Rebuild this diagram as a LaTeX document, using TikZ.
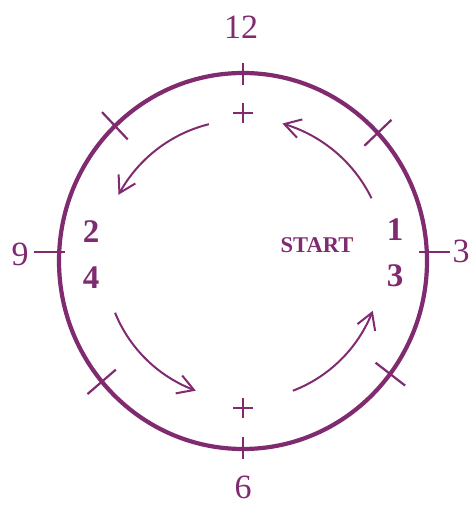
\documentclass[tikz,border=0pt]{standalone}
\usepackage{fontspec}
\setmainfont{Liberation Serif}
\usetikzlibrary{arrows.meta, bending}

\definecolor{clockpurple}{RGB}{128,42,112}

\begin{document}
\begin{tikzpicture}[
    x=1pt, y=1pt,
    >={Straight Barb[length=16pt, width=19pt]},
    rim/.style   ={draw=clockpurple, line width=4.2pt},
    tick/.style  ={draw=clockpurple, line width=2.2pt},
    flow/.style  ={->, draw=clockpurple, line width=2pt},
    hour/.style  ={text=clockpurple, inner sep=0pt,
                   font=\fontsize{34}{36}\selectfont},
    seat/.style  ={text=clockpurple, inner sep=0pt,
                   font=\fontsize{33}{35}\selectfont\bfseries},
    start/.style ={text=clockpurple, inner sep=0pt,
                   font=\fontsize{22.5}{24}\selectfont\bfseries}
  ]
  \useasboundingbox (0,0) rectangle (470,505);

  % ---- clock face --------------------------------------------------------
  \coordinate (c) at (243,244);
  \draw[rim] (c) ellipse [x radius=184, y radius=188];

  % ---- ticks on the rim ---------------------------------------------------
  \draw[tick] (c) ++(90:176)  -- ++(0,22);
  \draw[tick] (c) ++(270:176) -- ++(0,-22);
  \draw[tick] ([shift={(177:178)}]c) -- ++(-31,0);
  \draw[tick] ([shift={(3:176)}]c)   -- ++(31,0);
  \foreach \a in {43,134,220,323}
    \draw[tick] ([shift={(\a:166 and 169)}]c) -- ([shift={(\a:203 and 207)}]c);

  % ---- crosses inside -----------------------------------------------------
  \coordinate (plusT) at (243,392);
  \coordinate (plusB) at (243,97);
  \foreach \p in {plusT,plusB}
    \draw[tick] (\p) ++(-10,0) -- ++(20,0) (\p) ++(0,-10) -- ++(0,20);

  % ---- hour labels --------------------------------------------------------
  \node[hour] (h12) at (241,478) {12};
  \node[hour] (h9)  at (20,251)  {9};
  \node[hour] (h3)  at (461,254) {3};
  \node[hour] (h6)  at (243,18)  {6};

  % ---- positions ----------------------------------------------------------
  \node[seat] (p2) at (91,273)  {2};
  \node[seat] (p4) at (91,227)  {4};
  \node[seat] (p1) at (395,275) {1};
  \node[seat] (p3) at (395,229) {3};
  \node[start] (go) at (317,260) {START};

  % ---- direction of travel ------------------------------------------------
  \draw[flow] ([shift={(26:143)}]c)  arc[start angle=26,  end angle=74,  radius=143];
  \draw[flow] ([shift={(104:141)}]c) arc[start angle=104, end angle=152, radius=141];
  \draw[flow] ([shift={(202:138)}]c) arc[start angle=202, end angle=250, radius=138];
  \draw[flow] ([shift={(291:139)}]c) arc[start angle=291, end angle=339, radius=139];

\end{tikzpicture}
\end{document}
